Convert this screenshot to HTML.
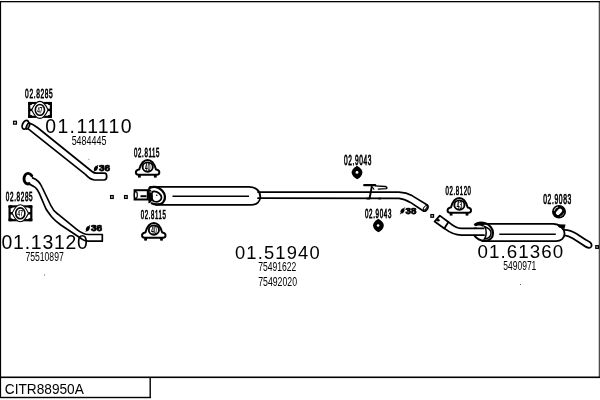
<!DOCTYPE html>
<html><head><meta charset="utf-8">
<style>
html,body{margin:0;padding:0;background:#fff;width:600px;height:400px;overflow:hidden}
svg{display:block;will-change:transform}
text{font-family:"Liberation Sans",sans-serif;fill:#000}
.big{font-size:19.3px}
.sm{font-size:11.8px}
.lab2{stroke:#000;stroke-width:0.75px;letter-spacing:1.3px}
.dia{font-size:9.5px;font-weight:bold;stroke:#000;stroke-width:0.75px}
.ln{fill:none;stroke:#000;stroke-width:1.7;stroke-linejoin:round;stroke-linecap:round}
</style></head><body>
<svg width="600" height="400" viewBox="0 0 600 400">
<defs>
  <!-- clamp A: 02.8285 ; local box 24x17 -->
  <g id="clampA">
    <rect x="1.1" y="1.4" width="21.7" height="13.8" fill="#fff" stroke="#000" stroke-width="2.2"/>
    <rect x="0" y="0.3" width="4" height="3" rx="1" fill="#000"/>
    <rect x="19.8" y="0.3" width="4" height="3" rx="1" fill="#000"/>
    <rect x="0" y="13.3" width="4" height="3" rx="1" fill="#000"/>
    <rect x="19.8" y="13.3" width="4" height="3" rx="1" fill="#000"/>
    <line x1="0.5" y1="8.3" x2="23.3" y2="8.3" stroke="#000" stroke-width="2.4"/>
    <path d="M3.6,8.3 C7,1.2 9,-0.2 11.8,-0.2 C14.6,-0.2 16.6,1.2 20,8.3 C16.6,15.4 14.6,16.8 11.8,16.8 C9,16.8 7,15.4 3.6,8.3 Z" fill="#fff" stroke="#000" stroke-width="1.1"/>
    <ellipse cx="11.8" cy="8.3" rx="4.6" ry="5.4" fill="#fff" stroke="#000" stroke-width="1.6"/>
  </g>
  <!-- clamp B: dome ; local box 24.5x18.6 -->
  <g id="clampB">
    <path d="M3.9,10.4 C5.4,5 7.8,0.9 12.3,0.9 C16.8,0.9 19.2,5 20.7,10.4 C23.4,10.6 24.2,12.2 24,13.7 C23.8,15.1 22.8,15.5 21.5,15.5 L3.1,15.5 C1.8,15.5 0.8,15.1 0.6,13.7 C0.4,12.2 1.2,10.6 3.9,10.4 Z" fill="#fff" stroke="#000" stroke-width="2" stroke-linejoin="round"/>
    <rect x="2.7" y="15" width="2.8" height="3.4" fill="#000"/>
    <rect x="18.6" y="15" width="2.8" height="3.4" fill="#000"/>
    <ellipse cx="12.4" cy="7.9" rx="5.1" ry="4.7" fill="#fff" stroke="#000" stroke-width="1.9"/>
  </g>
</defs>

<!-- frame -->
<rect x="0" y="1" width="600" height="1.3" fill="#000"/>
<rect x="0" y="1" width="1.1" height="397" fill="#000"/>
<rect x="598.8" y="1" width="0.9" height="377" fill="#000"/>
<rect x="0" y="376.5" width="600" height="1.6" fill="#000"/>
<rect x="149.5" y="377" width="1.4" height="21" fill="#000"/>
<rect x="0" y="396.8" width="151" height="1.4" fill="#000"/>
<text x="4.78" y="394.00" style="font-size:14.05px" textLength="79.09" lengthAdjust="spacingAndGlyphs">CITR88950A</text>

<!-- ===== part 01.11110 ===== -->
<text class="lab2" transform="translate(25.10,98.47) scale(0.4991,1)" style="font-size:13.16px">02.8285</text>
<use href="#clampA" x="28.1" y="101.6"/><g><text class="in" x="37.2" y="112.8" style="font-size:9px;font-weight:normal;stroke:#000;stroke-width:0.25px" textLength="5.2" lengthAdjust="spacingAndGlyphs">47</text></g>
<rect x="13.6" y="121.3" width="2.8" height="2.8" fill="none" stroke="#000" stroke-width="1.3"/>
<path class="ln" d="M28.8,122.9 Q33,124 38,128 L92,171.5 Q94,173.2 96.5,173.2 L104.5,173.2 Q106.7,173.2 106.7,176.5 Q106.7,180 104,180 L94.4,180 Q90,179.5 85.4,174.4 L27.6,128.3"/>
<ellipse cx="25.4" cy="124.8" rx="2.9" ry="4.6" transform="rotate(25 25.4 124.8)" fill="#fff" stroke="#000" stroke-width="1.8"/>
<ellipse cx="27.9" cy="126.2" rx="1.3" ry="3.3" transform="rotate(25 27.9 126.2)" fill="#999" stroke="#000" stroke-width="1.5"/>
<text class="big" x="45.26" y="132.90" textLength="86.34" lengthAdjust="spacing" style="font-size:19.44px">01.11110</text>
<text class="sm" x="71.63" y="145.10" textLength="34.80" lengthAdjust="spacingAndGlyphs" style="font-size:12.32px">5484445</text>
<text class="dia" x="99.02" y="170.85" textLength="11.20" lengthAdjust="spacingAndGlyphs" style="font-size:9.07px">36</text>

<!-- ===== part 01.13120 ===== -->
<text class="lab2" transform="translate(5.83,201.17) scale(0.4835,1)" style="font-size:13.16px">02.8285</text>
<use href="#clampA" x="8.5" y="205"/><g><text class="in" x="17.6" y="216.2" style="font-size:9px;font-weight:normal;stroke:#000;stroke-width:0.25px" textLength="5.2" lengthAdjust="spacingAndGlyphs">47</text></g>
<path class="ln" d="M32.6,177.9 C36.5,179.2 40,182.5 42.2,187.5 L50.8,205.5 C52.5,209.5 55,212 58,214.2 L77,229.6 C80,232 84,234.5 88.5,234.5 L102.3,234.5 L102.3,241.2 L88.3,241.2 C85,241 83,240 81.5,238.8 L60.5,224.8 C56,221.5 53.5,219 51.8,217 C49.5,214 47.5,211.5 46,209 L39.2,193.2 C37.5,189.5 36,187.5 33.8,186.5 C31.5,185 29.5,184 27.5,183.6"/>
<path d="M31.8,175.8 C30,172.8 26.5,172.6 25,175.2 C23.4,177.8 23.8,181.8 25.8,183.2 C26.8,184 28,184.2 29,183.5" fill="none" stroke="#000" stroke-width="2.9" stroke-linecap="round"/>
<text class="big" x="1.56" y="248.70" textLength="86.34" lengthAdjust="spacing" style="font-size:19.44px">01.13120</text>
<text class="sm" x="25.41" y="260.80" textLength="38.32" lengthAdjust="spacingAndGlyphs" style="font-size:12.18px">75510897</text>
<text class="dia" x="90.90" y="231.14" textLength="11.37" lengthAdjust="spacingAndGlyphs" style="font-size:9.50px">36</text>
<rect x="44" y="274.5" width="1" height="1" fill="#555"/>
<rect x="88.3" y="158.8" width="1" height="1" fill="#777"/>

<!-- ===== part 01.51940 ===== -->
<rect x="110.6" y="195.6" width="2.6" height="2.8" fill="none" stroke="#000" stroke-width="1.3"/>
<rect x="124.6" y="195.6" width="2.6" height="2.8" fill="none" stroke="#000" stroke-width="1.3"/>
<text class="lab2" transform="translate(134.02,157.31) scale(0.4813,1)" style="font-size:12.72px">02.8115</text>
<use href="#clampB" x="135.3" y="159.2"/><g><text class="in" x="145.1" y="170.8" style="font-size:10px;font-weight:normal;stroke:#000;stroke-width:0.4px" textLength="5.2" lengthAdjust="spacingAndGlyphs">40</text></g>
<text class="lab2" transform="translate(140.85,219.39) scale(0.4823,1)" style="font-size:12.48px">02.8115</text>
<use href="#clampB" x="141.5" y="222.2"/><g><text class="in" x="151.3" y="233.8" style="font-size:10px;font-weight:normal;stroke:#000;stroke-width:0.4px" textLength="5.2" lengthAdjust="spacingAndGlyphs">40</text></g>
<!-- muffler body -->
<path class="ln" d="M150,186.9 L249,186.9 C256,186.9 260.3,191.2 260.3,196.8 C260.3,201.3 257,204.9 251,204.9 L156,204.9" style="stroke-width:1.8"/>
<line x1="172.5" y1="196.3" x2="249" y2="196.3" stroke="#000" stroke-width="1.4"/>
<path d="M148.5,188.8 C152,185.5 158,186.5 162,190.5 C165.5,194 166,199 163,202.5 C160.5,205 155,205 151,203" fill="#fff" stroke="#000" stroke-width="2.2"/>
<path d="M153.5,191.5 C157.5,191 161.5,194.5 161.5,197.5 C161.5,200.5 158,202.5 154.5,201.5 C151,200.5 150.5,192 153.5,191.5 Z" fill="#fff" stroke="#000" stroke-width="1.8"/>
<path d="M160.5,188.5 C164.5,191 166.5,196 164.5,201" fill="none" stroke="#000" stroke-width="1" opacity="0.7"/>
<rect x="134.6" y="190.2" width="13.2" height="9.3" fill="#fff" stroke="#000" stroke-width="2"/>
<path d="M147.8,190.2 C150,189 151.5,191 152,195 C152.5,199 151,202.5 148.5,202.5" fill="#000" stroke="#000" stroke-width="1.5"/>
<rect x="140.5" y="195.2" width="6" height="2" fill="#000"/>
<ellipse cx="135.8" cy="195" rx="1.5" ry="3.3" fill="#fff" stroke="#000" stroke-width="1.2"/>
<rect x="149.5" y="191.3" width="2.5" height="1.3" fill="#888"/>
<circle cx="156.8" cy="195.3" r="0.8" fill="#000"/>
<!-- middle pipe -->
<path class="ln" d="M258,192.1 L399,192.2 C404,192.5 408,193.5 412,195.6 L427.3,205 C428.8,206.3 428.2,209 426.2,210.5 C425,211.3 423.8,211.4 423,210.8 L410.4,202.4 C407,200.5 403.5,198.8 399,198.4 L258,198.2"/>
<ellipse cx="425.2" cy="207.8" rx="1.2" ry="2.6" transform="rotate(40 425.2 207.8)" fill="none" stroke="#000" stroke-width="1"/>
<!-- hanger -->
<path d="M364.2,185.2 L375.2,185.2" stroke="#000" stroke-width="2.2" stroke-linecap="round"/>
<path d="M375,185.9 L385.3,186.5 Q387.6,187.3 386.6,188.6 L377.8,189.1" stroke="#000" stroke-width="1.4" fill="none"/>
<path d="M371.9,186 L369.6,198.2" stroke="#000" stroke-width="1.9"/>
<path d="M372.3,187 L374.2,189.6" stroke="#000" stroke-width="1.1"/>
<rect x="366.6" y="197.6" width="3.6" height="1.9" fill="#000"/>
<rect x="378.4" y="197.6" width="2.4" height="1.9" fill="#000"/>
<text class="big" x="234.90" y="258.70" textLength="84.79" lengthAdjust="spacing" style="font-size:18.33px">01.51940</text>
<text class="sm" x="258.21" y="271.20" textLength="37.99" lengthAdjust="spacingAndGlyphs" style="font-size:12.25px">75491622</text>
<text class="sm" x="258.21" y="285.70" textLength="38.79" lengthAdjust="spacingAndGlyphs" style="font-size:12.32px">75492020</text>
<text class="lab2" transform="translate(343.94,165.38) scale(0.4752,1)" style="font-size:13.82px">02.9043</text>
<path d="M357,165.8 Q362.8,169.5 362.4,172.8 Q361.8,177 357.3,179.2 Q352.4,177 351.6,172.8 Q351.4,169.5 357,165.8 Z" fill="#000"/>
<circle cx="357" cy="172.4" r="1.4" fill="#fff"/>
<text class="lab2" transform="translate(365.00,217.73) scale(0.5103,1)" style="font-size:12.17px">02.9043</text>
<path d="M378.3,218.8 Q384.2,222.5 383.8,225.8 Q383.2,230 378.5,232.3 Q373.6,230 373,225.8 Q372.8,222.5 378.3,218.8 Z" fill="#000"/>
<circle cx="378.1" cy="225.5" r="1.3" fill="#fff"/>
<text class="dia" x="405.60" y="214.17" textLength="10.9" lengthAdjust="spacingAndGlyphs" style="font-size:9.4px">38</text>
<rect x="430.9" y="214.6" width="2.6" height="2.6" fill="none" stroke="#000" stroke-width="1.3"/>

<g id="dias">
<ellipse cx="95.9" cy="168.4" rx="1.8" ry="2.7" transform="rotate(30 95.9 168.4)" fill="#000"/>
<line x1="93.9" y1="171.6" x2="98" y2="165" stroke="#000" stroke-width="1"/>
<ellipse cx="87.8" cy="228.6" rx="1.8" ry="2.7" transform="rotate(30 87.8 228.6)" fill="#000"/>
<line x1="85.8" y1="231.8" x2="89.9" y2="225.2" stroke="#000" stroke-width="1"/>
<ellipse cx="402.5" cy="210.9" rx="1.8" ry="2.7" transform="rotate(35 402.5 210.9)" fill="#000"/>
<line x1="400.3" y1="214.3" x2="404.7" y2="207.5" stroke="#000" stroke-width="1"/>
</g>
<!-- ===== part 01.61360 ===== -->
<text class="lab2" transform="translate(445.62,195.31) scale(0.4645,1)" style="font-size:12.92px">02.8120</text>
<use href="#clampB" x="447" y="197.2"/><g><text class="in" x="456.8" y="208.8" style="font-size:10px;font-weight:normal;stroke:#000;stroke-width:0.4px" textLength="5.2" lengthAdjust="spacingAndGlyphs">43</text></g>
<text class="lab2" transform="translate(543.20,204.21) scale(0.4888,1)" style="font-size:13.77px">02.9083</text>
<ellipse cx="559" cy="211.8" rx="7" ry="6.8" fill="#000"/>
<rect x="557" y="208.3" width="4" height="7" rx="1.7" transform="rotate(45 559 211.8)" fill="#fff"/>
<path d="M554.2,210.8 Q554.6,207.6 558,206.9" fill="none" stroke="#fff" stroke-width="0.9"/>
<path d="M560,216.6 Q563.4,216 564,212.8" fill="none" stroke="#fff" stroke-width="0.7" opacity="0.6"/>
<!-- rear inlet pipe -->
<path class="ln" d="M448.4,222 C452,225 456,228.4 461,228.4 L476,228.4 M444.3,228.4 C449,232 455,235.1 461.5,235.1 L484,235.1" style="stroke-width:1.8"/>
<path d="M434.6,221.6 L439.8,215.6 L448.4,222 L444.3,228.4 Z" fill="#fff" stroke="#000" stroke-width="1.8" stroke-linejoin="round"/>
<ellipse cx="438.2" cy="220.2" rx="1.5" ry="1.2" fill="#000"/>
<!-- rear muffler -->
<path class="ln" d="M475.5,223.9 L553,223.9 C560,223.9 564.5,229.2 564.5,233.8 C564.5,238.2 561,241.2 556,241.2 L482.5,241.2" style="stroke-width:1.8"/>
<line x1="499.3" y1="234.2" x2="555.8" y2="234.2" stroke="#000" stroke-width="1.4"/>
<path d="M474.5,225.5 C477,222.5 482,222.3 486,223.5 C490,225 493,229 493,233 C493,237.5 490,240.8 485,240.8 C480,240.8 476,238 474,235" fill="none" stroke="#000" stroke-width="2.2"/>
<path d="M484.5,226.5 C488.5,228 491,230.5 491,233 C491,236 489,238.5 484.5,239 C486.5,236 487,230 484.5,226.5 Z" fill="#fff" stroke="#000" stroke-width="1.5"/>
<path d="M474.3,228.4 L484,228.4 L484,235.1 L474.3,235.1 Z" fill="#fff"/>
<path d="M474,228.4 L484.2,228.4 M474,235.1 L484.2,235.1" stroke="#000" stroke-width="1.6"/>
<path d="M475.5,225 C478,224 481,224.3 483.5,225.5" stroke="#000" stroke-width="2.5" fill="none"/>
<path d="M556.5,224.3 L565.5,224.6 L564.5,229 L559,227.5 Z" fill="#000"/>
<!-- tail pipe -->
<path class="ln" d="M564.5,229.8 C569,229.8 573,231.5 577,234 C581,236.5 584,239 588,241 C591,242.3 592.3,244.5 591.3,246.6 C590.2,248.4 588,248 585.5,246.6 C581,244 577,241 573,238.6 C570,236.7 567.5,235.6 564.8,235.4" style="stroke-width:1.8"/>
<rect x="595.8" y="245.7" width="2.6" height="2.6" fill="none" stroke="#000" stroke-width="1.3"/>
<text class="big" x="477.40" y="258.40" textLength="85.80" lengthAdjust="spacing" style="font-size:18.75px">01.61360</text>
<text class="sm" x="503.33" y="269.90" textLength="33.00" lengthAdjust="spacingAndGlyphs" style="font-size:12.32px">5490971</text>
<rect x="520" y="284" width="1" height="1" fill="#555"/>
</svg>
</body></html>
